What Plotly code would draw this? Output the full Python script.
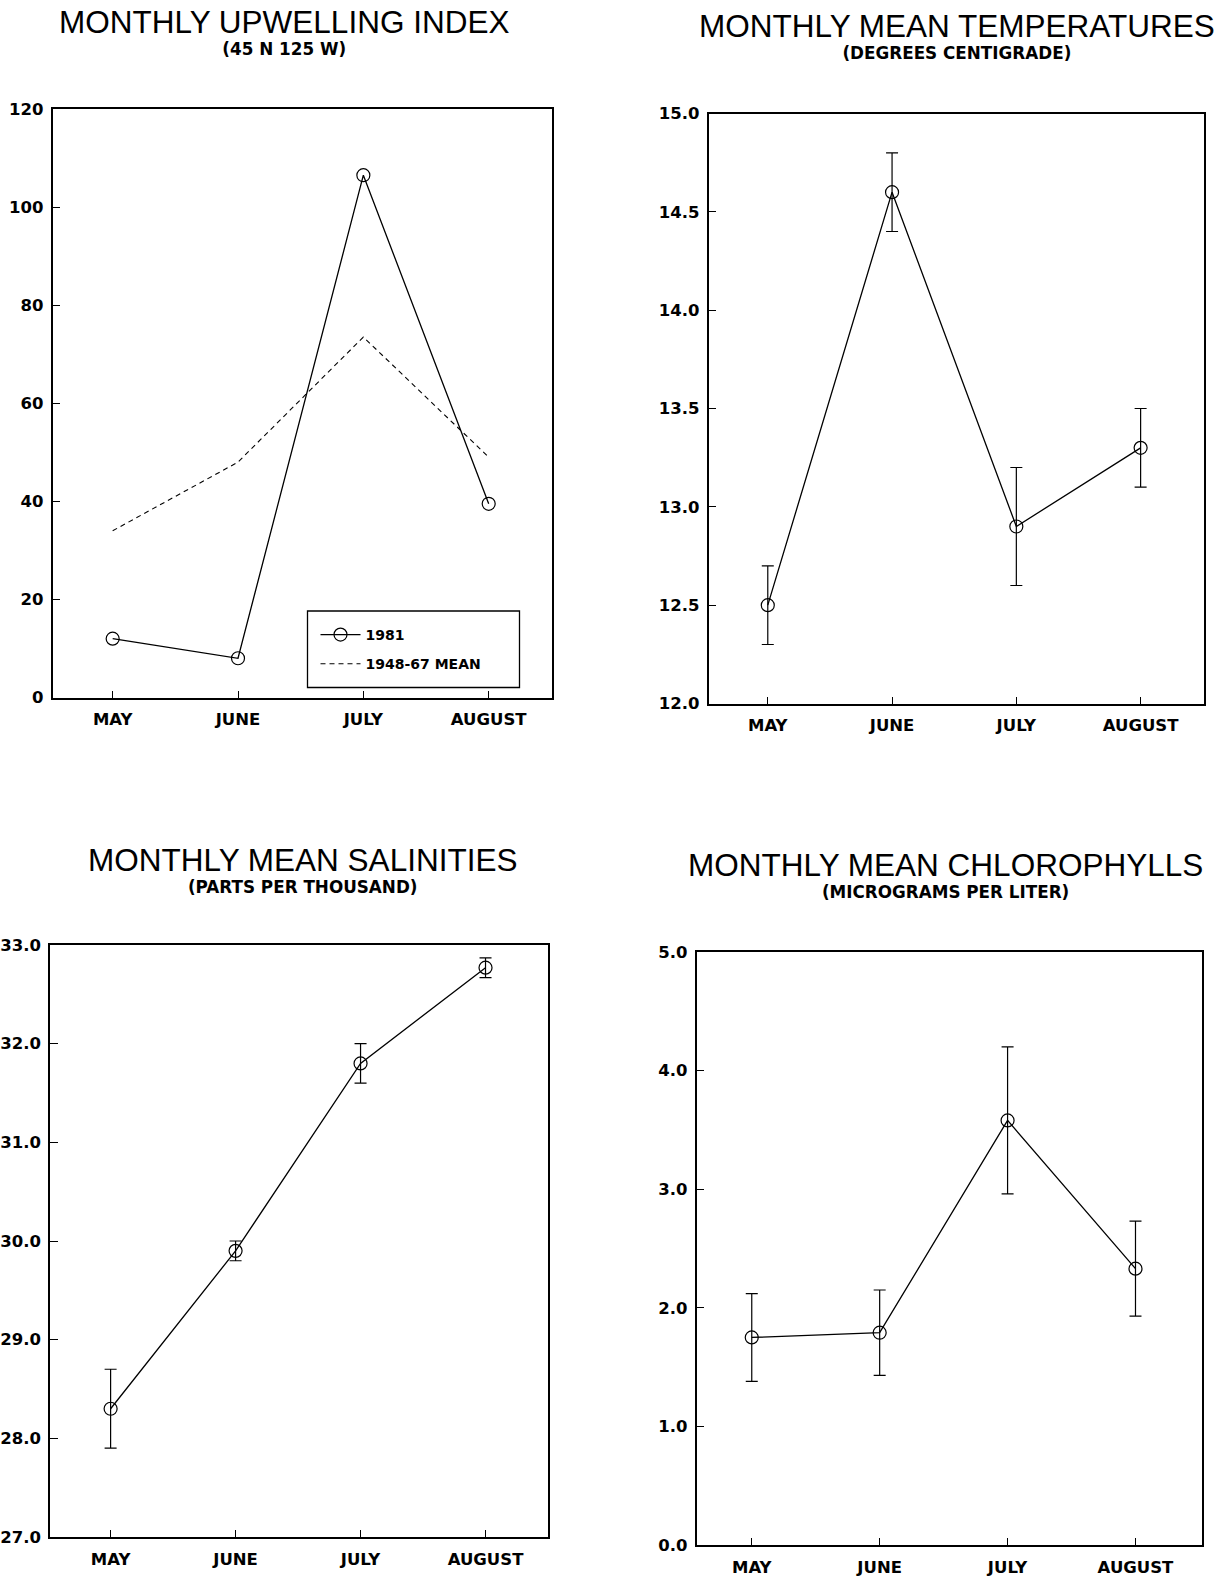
import plotly.graph_objects as go

W, H = 1229, 1576

months = ["MAY", "JUNE", "JULY", "AUGUST"]
upwelling_1981 = [12, 8, 106.5, 39.5]
upwelling_mean = [34, 48, 73.5, 49]
temperature = [12.5, 14.6, 12.9, 13.3]
temperature_err = [0.2, 0.2, 0.3, 0.2]
salinity = [28.3, 29.9, 31.8, 32.77]
salinity_err = [0.4, 0.1, 0.2, 0.1]
chlorophyll = [1.75, 1.79, 3.58, 2.33]
chlorophyll_err = [0.37, 0.36, 0.62, 0.40]

titles = ["MONTHLY UPWELLING INDEX", "MONTHLY MEAN TEMPERATURES",
          "MONTHLY MEAN SALINITIES", "MONTHLY MEAN CHLOROPHYLLS"]
subtitles = ["(45 N 125 W)", "(DEGREES CENTIGRADE)",
             "(PARTS PER THOUSAND)", "(MICROGRAMS PER LITER)"]

# panel boxes in pixels: left, right, top, bottom
boxes = [(52.5, 552, 109, 697.5),
         (708.5, 1204, 113.5, 703.5),
         (50, 548, 945, 1537),
         (696.5, 1202, 952, 1545)]
xranges = [(-0.48, 3.505), (-0.477, 3.51), (-0.485, 3.5), (-0.432, 3.52)]
yranges = [(0, 120), (12.0, 15.0), (27.0, 33.0), (0.0, 5.0)]
ydticks = [20, 0.5, 1.0, 1.0]
yformats = ["d", ".1f", ".1f", ".1f"]
# title block: centre x, centre y (between title and subtitle)
title_pos = [(284, 31.5), (957, 35.5), (302, 870), (945, 874)]

TFONT = "Liberation Sans"
BFONT = "DejaVu Sans, sans-serif"
LW = 1.3

fig = go.Figure()

def ax(i, s):
    return s if i == 0 else f"{s}{i+1}"

# Panel 1
fig.add_trace(go.Scatter(x=months, y=upwelling_1981, mode="lines+markers", name="1981",
                         line=dict(color="black", width=LW),
                         marker=dict(symbol="circle-open", size=13, color="black", line=dict(width=1.2)),
                         legendgroup="a", xaxis="x", yaxis="y"))
fig.add_trace(go.Scatter(x=months, y=upwelling_mean, mode="lines", name="1948-67 MEAN",
                         line=dict(color="black", width=1.1, dash="5px,4px"),
                         legendgroup="b", xaxis="x", yaxis="y"))

for i, (vals, errs) in enumerate([(temperature, temperature_err),
                                   (salinity, salinity_err),
                                   (chlorophyll, chlorophyll_err)], start=1):
    fig.add_trace(go.Scatter(x=months, y=vals, mode="lines+markers", showlegend=False,
                             line=dict(color="black", width=LW),
                             marker=dict(symbol="circle-open", size=13, color="black", line=dict(width=1.2)),
                             error_y=dict(type="data", array=errs, visible=True, color="black",
                                          thickness=1.2, width=6),
                             xaxis=ax(i, "x"), yaxis=ax(i, "y")))

layout = dict(width=W, height=H, margin=dict(l=0, r=0, t=0, b=0, pad=0, autoexpand=False),
              paper_bgcolor="white", plot_bgcolor="white", showlegend=True)
annotations = []
for i in range(4):
    L, R, T, B = boxes[i]
    xa = dict(domain=[L / W, R / W], range=list(xranges[i]), type="category",
              categoryorder="array", categoryarray=months,
              showline=True, linecolor="black", linewidth=1.5, mirror=True,
              ticks="inside", ticklen=7, tickwidth=1.2, tickcolor="black",
              showgrid=False, zeroline=False, fixedrange=True, automargin=False,
              tickfont=dict(family=BFONT, size=16.5, color="black", weight="bold"),
              ticklabelstandoff=6,
              anchor=ax(i, "y"))
    lo, hi = yranges[i]
    ya = dict(domain=[1 - B / H, 1 - T / H], range=[lo, hi],
              tickmode="linear", tick0=lo, dtick=ydticks[i], tickformat=yformats[i],
              showline=True, linecolor="black", linewidth=1.5, mirror=True,
              ticks="inside", ticklen=8, tickwidth=1.2, tickcolor="black",
              showgrid=False, zeroline=False, fixedrange=True, automargin=False,
              tickfont=dict(family=BFONT, size=16.5, color="black", weight="bold"),
              ticklabelstandoff=4,
              anchor=ax(i, "x"))
    layout["xaxis" if i == 0 else f"xaxis{i+1}"] = xa
    layout["yaxis" if i == 0 else f"yaxis{i+1}"] = ya
    cx, cy = title_pos[i]
    text = (f"<span style='font-family:{TFONT};font-size:31.5px;font-weight:normal'>{titles[i]}</span>"
            f"<br>{subtitles[i]}")
    annotations.append(dict(text=text, x=cx / W, y=1 - cy / H, xref="paper", yref="paper",
                            xanchor="center", yanchor="middle", align="center", showarrow=False,
                            font=dict(family=BFONT, size=16.8, color="black", weight="bold")))

layout["annotations"] = annotations
# legend frame
lgL, lgR, lgT, lgB = 307.5, 519.5, 611, 687.5
layout["shapes"] = [dict(type="rect", xref="paper", yref="paper",
                         x0=lgL / W, x1=lgR / W, y0=1 - lgB / H, y1=1 - lgT / H,
                         line=dict(color="black", width=1.3), fillcolor="rgba(0,0,0,0)")]
layout["legend"] = dict(x=(lgL + 8) / W, y=1 - (lgT + 8) / H, xanchor="left", yanchor="top",
                        bgcolor="rgba(0,0,0,0)", borderwidth=0, tracegroupgap=8,
                        font=dict(family=BFONT, size=14, color="black", weight="bold"),
                        itemwidth=40)

fig.update_layout(**layout)
fig.write_html("out.html", config={"displayModeBar": False},
               post_script="document.body.style.margin='0';document.body.style.overflow='hidden';")
